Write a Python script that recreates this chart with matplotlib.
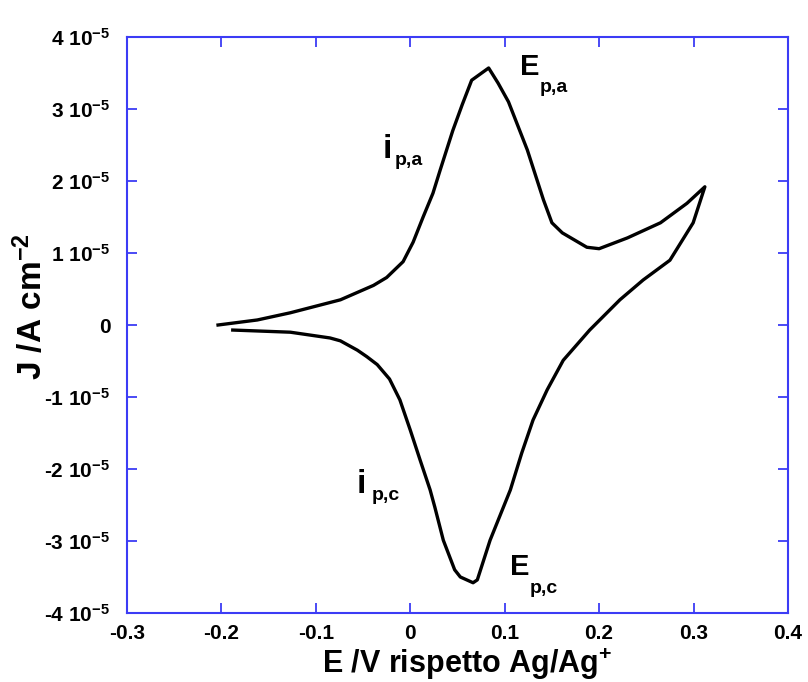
import matplotlib
matplotlib.use("Agg")
import matplotlib.pyplot as plt
from matplotlib.ticker import FuncFormatter

plt.rcParams['font.family'] = ['Liberation Sans', 'DejaVu Sans']
plt.rcParams['font.weight'] = 'bold'
plt.rcParams['mathtext.fontset'] = 'custom'
plt.rcParams['mathtext.rm'] = 'Liberation Sans:bold'
plt.rcParams['mathtext.it'] = 'Liberation Sans:bold'
plt.rcParams['mathtext.bf'] = 'Liberation Sans:bold'
plt.rcParams['mathtext.default'] = 'rm'

# Cyclic voltammogram: potential (V) and current density (units of 1e-5 A cm^-2)
E_vals = [-0.2036, -0.162, -0.127, -0.074, -0.039, -0.025, -0.0076, 0.003, 0.0136,
          0.024, 0.0316, 0.045, 0.055, 0.065, 0.083, 0.093, 0.104, 0.124, 0.141,
          0.150, 0.161, 0.187, 0.200, 0.230, 0.265, 0.293, 0.312,
          0.2996, 0.275, 0.2466, 0.222, 0.190, 0.162, 0.145, 0.130, 0.118, 0.106,
          0.0845, 0.071, 0.0665, 0.053, 0.047, 0.035, 0.026, 0.021, 0.0104, 0.0,
          -0.011, -0.022, -0.035, -0.046, -0.056, -0.074, -0.085, -0.127, -0.188]
J_vals = [0.0, 0.07, 0.17, 0.35, 0.55, 0.66, 0.88, 1.15, 1.5,
          1.83, 2.15, 2.7, 3.06, 3.4, 3.57, 3.36, 3.1, 2.43, 1.74,
          1.42, 1.28, 1.08, 1.06, 1.21, 1.42, 1.69, 1.92,
          1.42, 0.9, 0.625, 0.35, -0.07, -0.49, -0.9, -1.32, -1.78, -2.29,
          -2.99, -3.54, -3.58, -3.5, -3.4, -2.99, -2.53, -2.29, -1.875, -1.46,
          -1.04, -0.75, -0.55, -0.44, -0.35, -0.22, -0.18, -0.1, -0.07]
J_scale = 1e-5

x_ticks = [-0.3, -0.2, -0.1, 0, 0.1, 0.2, 0.3, 0.4]
y_ticks = [-4, -3, -2, -1, 0, 1, 2, 3, 4]

blue = '#3c3cf5'

fig = plt.figure(figsize=(8.08, 6.82), dpi=100)
ax = fig.add_axes([0.1572, 0.1012, 0.8180, 0.8445])

ax.plot(E_vals, [j * J_scale for j in J_vals], color='black', lw=2.4,
        solid_joinstyle='round')

ax.set_xlim(-0.3, 0.4)
ax.set_ylim(-4e-5, 4e-5)
ax.set_xticks(x_ticks)
ax.set_yticks([v * J_scale for v in y_ticks])

def xfmt(v, pos):
    if abs(v) < 1e-9:
        return "0"
    return f"{v:.1f}"

def yfmt(v, pos):
    m = int(round(v / J_scale))
    if m == 0:
        return "0"
    return f"{m} 10$^{{-5}}$"

ax.xaxis.set_major_formatter(FuncFormatter(xfmt))
ax.yaxis.set_major_formatter(FuncFormatter(yfmt))

for sp in ax.spines.values():
    sp.set_color(blue)
    sp.set_linewidth(1.5)
ax.tick_params(axis='both', which='both', direction='in', color=blue,
               width=1.3, length=7, top=True, right=True, labelsize=15)
ax.tick_params(axis='x', pad=8)
ax.tick_params(axis='y', pad=12)

ax.set_xlabel("E /V rispetto Ag/Ag$^{+}$", fontsize=22, fontweight='bold')
ax.xaxis.label.set_va('baseline')
ax.xaxis.set_label_coords(0.515, -0.105)
ax.set_ylabel("J /A cm$^{-2}$", fontsize=24, fontweight='bold')
ax.yaxis.set_label_coords(-0.118, 0.531)

# peak annotations
ax.text(0.1163, 3.47e-5, "E", fontsize=21, fontweight='bold', va='baseline')
ax.text(0.1375, 3.24e-5, "p,a", fontsize=14, fontweight='bold', va='baseline')
ax.text(-0.0288, 2.32e-5, "i", fontsize=24, fontweight='bold', va='baseline')
ax.text(-0.0161, 2.22e-5, "p,a", fontsize=14, fontweight='bold', va='baseline')
ax.text(-0.0564, -2.33e-5, "i", fontsize=24, fontweight='bold', va='baseline')
ax.text(-0.0405, -2.43e-5, "p,c", fontsize=14, fontweight='bold', va='baseline')
ax.text(0.1057, -3.47e-5, "E", fontsize=21, fontweight='bold', va='baseline')
ax.text(0.1269, -3.72e-5, "p,c", fontsize=14, fontweight='bold', va='baseline')

fig.savefig("out.png", dpi=100, facecolor='white')
